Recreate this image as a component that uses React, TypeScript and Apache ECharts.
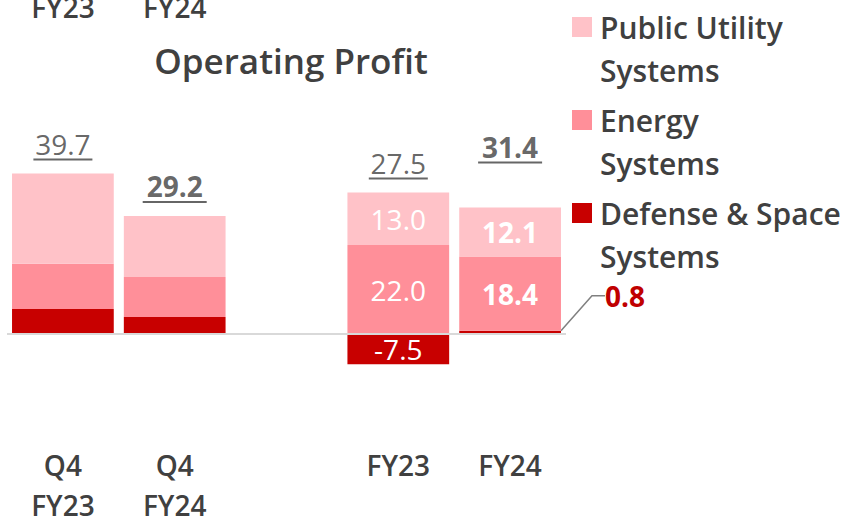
import React, { useEffect, useRef } from "react";
import * as echarts from "echarts";

const categories = ["Q4\nFY23", "Q4\nFY24", "", "FY23", "FY24"];
const upperPanelLabels = ["FY23", "FY24", "", "", ""];
const titleText = "Operating Profit";
const legendNames = ["Public Utility\nSystems", "Energy\nSystems", "Defense & Space\nSystems"];
const defense = [6.2, 4.2, null, -7.5, 0.8];
const energy = [11.2, 9.9, null, 22.0, 18.4];
const publicUtility = [22.3, 15.1, null, 13.0, 12.1];
const totals = [39.7, 29.2, null, 27.5, 31.4];

const FONT = "'Open Sans', 'Noto Sans', sans-serif";
const TEXT = "#404040";
const COLORS = { pus: "#FFC2C8", energy: "#FF8F99", defense: "#C80000" };
const BOLD_IDX = [1, 4];
const SEG_LABEL_IDX = [3, 4];

export default function App() {
  const ref = useRef<HTMLDivElement>(null);
  useEffect(() => {
    if (!ref.current) return;
    const chart = echarts.init(ref.current, undefined, { renderer: "svg" });

    const segData = (arr: (number | null)[]) =>
      arr.map((v, i) => {
        if (v == null) return null;
        const show = SEG_LABEL_IDX.includes(i);
        return {
          value: v,
          label: {
            show,
            position: "inside",
            color: "#fff",
            fontSize: 28,
            fontFamily: FONT,
            fontWeight: BOLD_IDX.includes(i) ? 700 : 400,
            formatter: (p: any) => Number(p.value).toFixed(1),
          },
        };
      });

    const defenseData: any[] = segData(defense);
    // small positive value labelled outside with a leader line
    defenseData[4] = {
      value: defense[4],
      label: {
        show: true,
        position: "right",
        color: "#C00000",
        fontSize: 28,
        fontFamily: FONT,
        fontWeight: 700,
        padding: [0, 0, 0, 7],
        formatter: (p: any) => Number(p.value).toFixed(1),
      },
      labelLine: { show: true, length2: 13, lineStyle: { color: "#808080", width: 1.5 } },
    };

    const stackTop = categories.map((_, i) =>
      [defense, energy, publicUtility].reduce((s, a) => s + Math.max((a[i] as number) ?? 0, 0), 0)
    );

    const totalData = totals.map((t, i) => {
      if (t == null) return null;
      const bold = BOLD_IDX.includes(i);
      return {
        value: stackTop[i],
        label: {
          distance: i === 4 ? 44 : 13,
          formatter: `{${bold ? "b" : "r"}|${t.toFixed(1)}}\n{${bold ? "ub" : "ur"}| }`,
        },
      };
    });

    const bar = (name: string, data: any[], color: string, extra: any = {}) => ({
      name,
      type: "bar",
      stack: "total",
      data,
      barCategoryGap: "9%",
      itemStyle: { color },
      labelLine: { show: false },
      ...extra,
    });

    const legendItems: any[] = [];
    const legendColors = [COLORS.pus, COLORS.energy, COLORS.defense];
    legendNames.forEach((n, k) => {
      const cy = 27 + k * 93;
      legendItems.push({
        type: "rect",
        left: 572,
        top: cy - 10,
        shape: { width: 20, height: 20 },
        style: { fill: legendColors[k] },
      });
      legendItems.push({
        type: "text",
        left: 600,
        top: cy - 21.5,
        style: {
          text: n,
          fill: TEXT,
          font: `600 30px ${FONT}`,
          lineHeight: 43,
        },
      });
    });

    chart.setOption({
      animation: false,
      title: {
        text: titleText,
        left: 291,
        top: 39,
        textAlign: "center",
        padding: 0,
        textStyle: { fontSize: 35, fontWeight: 600, color: TEXT, fontFamily: FONT, lineHeight: 42 },
      },
      grid: { left: 7, right: 283, top: 132, bottom: 84, containLabel: false, outerBoundsMode: "none" },
      xAxis: [
        {
          type: "category",
          data: categories,
          position: "bottom",
          axisLine: { show: false },
          axisTick: { show: false },
          axisLabel: {
            margin: 10,
            fontSize: 28,
            fontWeight: 600,
            color: TEXT,
            fontFamily: FONT,
            lineHeight: 40,
            interval: 0,
          },
        },
        {
          type: "category",
          data: upperPanelLabels,
          position: "top",
          axisLine: { show: false },
          axisTick: { show: false },
          axisLabel: {
            margin: 105,
            fontSize: 28,
            fontWeight: 600,
            color: TEXT,
            fontFamily: FONT,
            lineHeight: 40,
            interval: 0,
          },
        },
      ],
      yAxis: { type: "value", min: -25, max: 50, show: false },
      series: [
        bar("Defense & Space Systems", defenseData, COLORS.defense, {
          labelLayout: (p: any) =>
            p.dataIndex === 4
              ? {
                  x: p.rect.x + p.rect.width + 37,
                  y: Math.min(p.rect.y, p.rect.y + p.rect.height) - 35,
                  align: "left",
                  verticalAlign: "middle",
                }
              : {},
        }),
        bar("Energy Systems", segData(energy), COLORS.energy),
        bar("Public Utility Systems", segData(publicUtility), COLORS.pus, {
          markLine: {
            silent: true,
            symbol: ["none", "none"],
            label: { show: false },
            lineStyle: { color: "#D9D9D9", width: 2, type: "solid" },
            data: [{ yAxis: 0 }],
          },
        }),
        {
          name: "Total",
          type: "scatter",
          data: totalData,
          symbolSize: 0,
          itemStyle: { color: "transparent" },
          z: 5,
          label: {
            show: true,
            position: "top",
            rich: {
              r: { fontSize: 28, fontWeight: 400, color: TEXT, fontFamily: FONT, lineHeight: 30 },
              b: { fontSize: 28, fontWeight: 700, color: TEXT, fontFamily: FONT, lineHeight: 30 },
              ur: { width: 59, height: 2, lineHeight: 2, fontSize: 1, backgroundColor: TEXT },
              ub: { width: 64, height: 2, lineHeight: 2, fontSize: 1, backgroundColor: TEXT },
            },
          },
        },
      ],
      graphic: legendItems,
    });
    return () => chart.dispose();
  }, []);
  return (
    <div
      ref={ref}
      style={{ position: "absolute", left: 0, top: 0, width: 849, height: 519, background: "#fff" }}
    />
  );
}
